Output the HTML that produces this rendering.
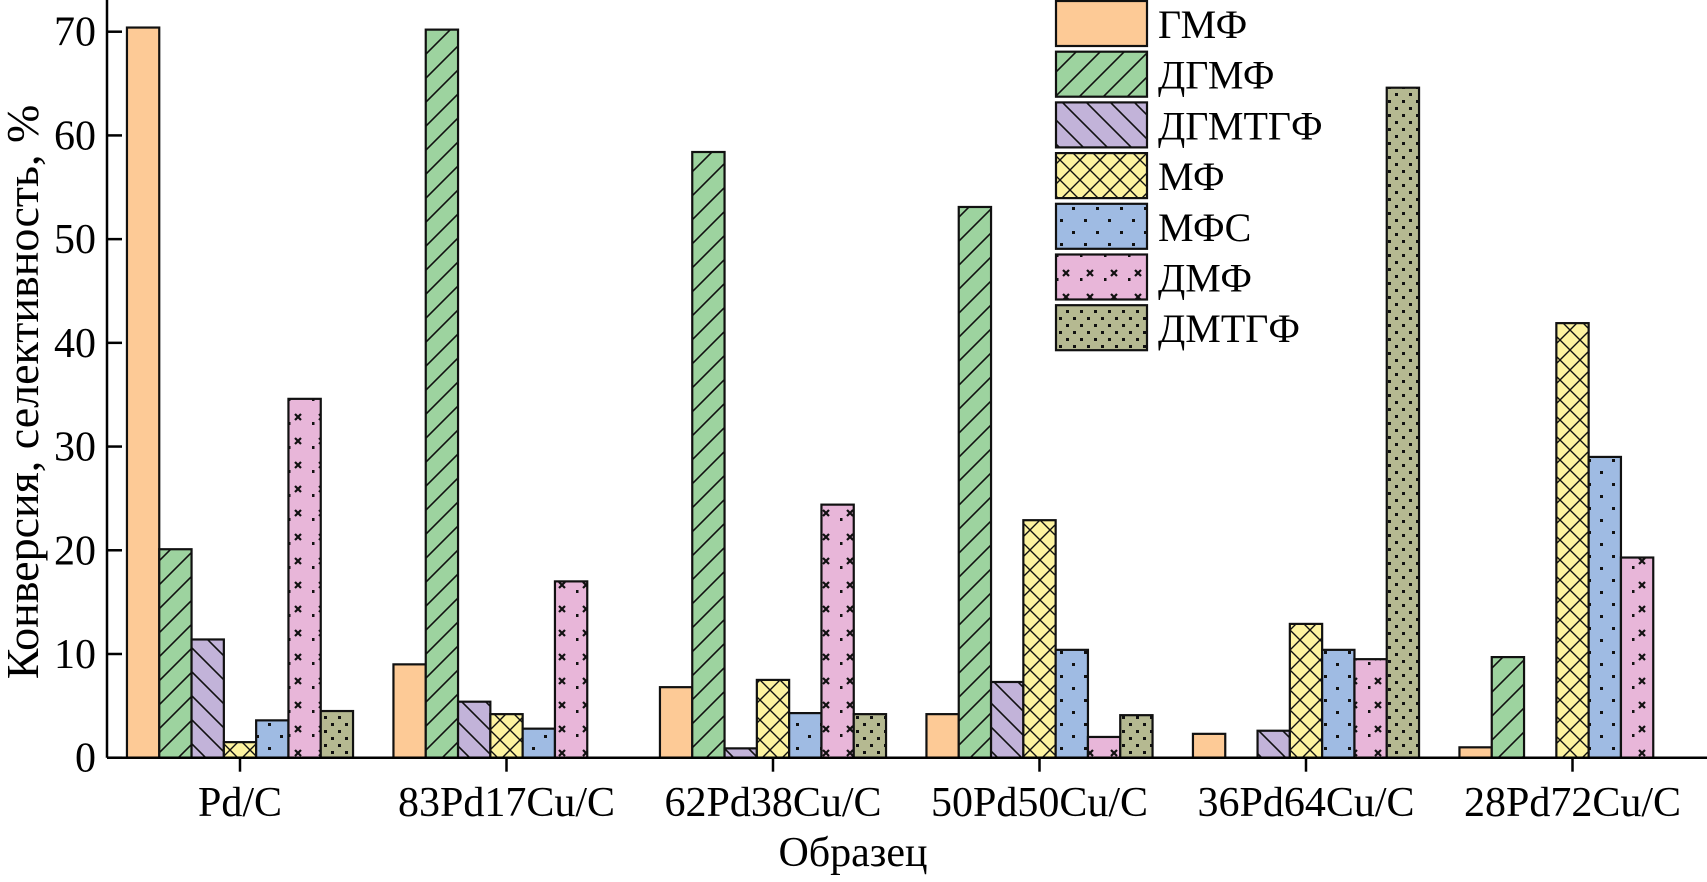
<!DOCTYPE html>
<html><head><meta charset="utf-8">
<style>
html,body{margin:0;padding:0;background:#fff;}
svg{display:block;font-family:"Liberation Serif","DejaVu Serif",serif;}
</style></head>
<body>
<svg id="chart" width="1707" height="882" viewBox="0 0 1707 882" xmlns="http://www.w3.org/2000/svg">
<defs>
<pattern id="p-gmf" patternUnits="userSpaceOnUse" width="10" height="10"><rect width="10" height="10" fill="#FDCA96"/></pattern>
<pattern id="p-dgmf" patternUnits="userSpaceOnUse" width="24" height="24"><rect width="24" height="24" fill="#9DD39F"/><path d="M-6,30 L30,-6 M-6,6 L6,-6 M18,30 L30,18" stroke="#111" stroke-width="1.6"/></pattern>
<pattern id="p-dgmtgf" patternUnits="userSpaceOnUse" width="24" height="24"><rect width="24" height="24" fill="#C2B3D9"/><path d="M-6,-6 L30,30 M18,-6 L30,6 M-6,18 L6,30" stroke="#111" stroke-width="1.6"/></pattern>
<pattern id="p-mf" patternUnits="userSpaceOnUse" width="20" height="20"><rect width="20" height="20" fill="#FDF3A0"/><path d="M-5,25 L25,-5 M-5,5 L5,-5 M15,25 L25,15 M-5,-5 L25,25 M15,-5 L25,5 M-5,15 L5,25" stroke="#111" stroke-width="1.4"/></pattern>
<pattern id="p-mfs" patternUnits="userSpaceOnUse" width="24" height="24"><rect width="24" height="24" fill="#9FBBE3"/><rect x="4" y="3" width="3" height="3" fill="#111"/><rect x="16" y="15" width="3" height="3" fill="#111"/></pattern>
<pattern id="p-dmf" patternUnits="userSpaceOnUse" width="24" height="24"><rect width="24" height="24" fill="#E8B6D9"/><path d="M7,6 L13,12 M13,6 L7,12" stroke="#111" stroke-width="2.2"/><rect x="0" y="14" width="2.5" height="3" fill="#111"/></pattern>
<pattern id="p-dmtgf" patternUnits="userSpaceOnUse" width="14" height="14"><rect width="14" height="14" fill="#B5B991"/><rect x="2" y="2" width="3" height="3" fill="#111"/><rect x="9" y="9" width="3" height="3" fill="#111"/></pattern>
</defs>
<g id="plot"></g>
</svg>
<script>
const categories = ["Pd/C","83Pd17Cu/C","62Pd38Cu/C","50Pd50Cu/C","36Pd64Cu/C","28Pd72Cu/C"];
const seriesNames = ["ГМФ","ДГМФ","ДГМТГФ","МФ","МФС","ДМФ","ДМТГФ"];
const gmf    = [70.4, 9.0, 6.8, 4.2, 2.3, 1.0];
const dgmf   = [20.1, 70.2, 58.4, 53.1, 0, 9.7];
const dgmtgf = [11.4, 5.4, 0.9, 7.3, 2.6, 0];
const mf     = [1.5, 4.2, 7.5, 22.9, 12.9, 41.9];
const mfs    = [3.6, 2.8, 4.3, 10.4, 10.4, 29.0];
const dmf    = [34.6, 17.0, 24.4, 2.0, 9.5, 19.3];
const dmtgf  = [4.5, 0, 4.2, 4.1, 64.6, 0];
const yTicks = [0,10,20,30,40,50,60,70];

const series = [gmf,dgmf,dgmtgf,mf,mfs,dmf,dmtgf];
const fills = ["url(#p-gmf)","url(#p-dgmf)","url(#p-dgmtgf)","url(#p-mf)","url(#p-mfs)","url(#p-dmf)","url(#p-dmtgf)"];
const slugs = ["gmf","dgmf","dgmtgf","mf","mfs","dmf","dmtgf"];

const NS="http://www.w3.org/2000/svg";
const g=document.getElementById('plot');
const axX=107, y0=757.7, y70=31.7;
const yScale=v=>y0-(v/70)*(y0-y70);
const gc=i=>240+i*266.5;
const bw=32.3;
function el(t,a){const e=document.createElementNS(NS,t);for(const k in a)e.setAttribute(k,a[k]);g.appendChild(e);return e;}

categories.forEach((c,ci)=>{
  series.forEach((s,si)=>{
    const v=s[ci]; if(v<=0) return;
    const x=gc(ci)+(si-3)*bw-bw/2;
    const r=el('rect',{x:x,y:yScale(v),width:bw,height:y0-yScale(v),fill:fills[si],stroke:'#111','stroke-width':2.2});
    
    
  });
});

let a=el('line',{x1:axX,y1:0,x2:axX,y2:y0,stroke:'#000','stroke-width':2.5});


a=el('line',{x1:axX,y1:y0,x2:1707,y2:y0,stroke:'#000','stroke-width':2.5});



yTicks.forEach(v=>{
  const y=yScale(v);
  const t=el('line',{x1:axX,y1:y,x2:axX+15,y2:y,stroke:'#000','stroke-width':2.5});
  
  
  const l=el('text',{x:96,y:y+14,'text-anchor':'end','font-size':42,fill:'#000'});
  l.textContent=v;
  
  
});
categories.forEach((c,ci)=>{
  const x=gc(ci);
  const t=el('line',{x1:x,y1:y0,x2:x,y2:y0+14,stroke:'#000','stroke-width':2.5});
  
  
  const l=el('text',{x:x,y:816,'text-anchor':'middle','font-size':42,fill:'#000'});
  l.textContent=c;
  
  
});
let tt=el('text',{x:853,y:866,'text-anchor':'middle','font-size':42,fill:'#000'});
tt.textContent='Образец';


tt=el('text',{x:0,y:0,'text-anchor':'middle','font-size':46,fill:'#000',transform:'translate(38,392) rotate(-90)'});
tt.textContent='Конверсия, селективность, %';



seriesNames.forEach((n,i)=>{
  const y=1+i*50.7;
  const r=el('rect',{x:1056,y:y,width:91,height:45,fill:fills[i],stroke:'#111','stroke-width':2.2});
  
  
  const t=el('text',{x:1158,y:y+37,'font-size':40,fill:'#000'});
  t.textContent=n;
  
  
});
</script>
</body></html>
